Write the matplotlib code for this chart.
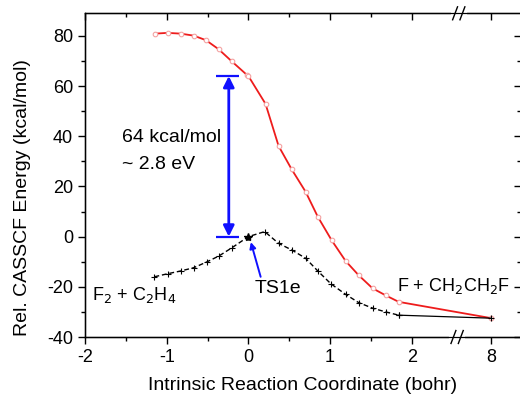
import numpy as np
import matplotlib
matplotlib.use('Agg')
import matplotlib.pyplot as plt

plt.rcParams['font.family'] = ['Liberation Sans', 'DejaVu Sans']
plt.rcParams['axes.unicode_minus'] = False

# IRC scan, excited state (red) and ground state (black)
irc_red = [-1.14, -0.99, -0.83, -0.67, -0.52, -0.365, -0.205, -0.02, 0.0, 0.21,
           0.37, 0.53, 0.70, 0.85, 1.02, 1.19, 1.35, 1.52, 1.68, 1.84, 8.0]
e_red = [80.9, 81.2, 80.9, 80.1, 78.3, 74.7, 69.9, 64.5, 64.0, 52.9,
         36.1, 26.8, 17.9, 7.9, -1.5, -9.7, -15.4, -20.6, -23.4, -26.0, -32.5]

irc_black = [-1.15, -0.99, -0.83, -0.67, -0.51, -0.36, -0.20, 0.0, 0.20,
             0.37, 0.53, 0.70, 0.85, 1.01, 1.19, 1.35, 1.52, 1.68, 1.84]
e_black = [-16.0, -14.8, -13.7, -12.4, -10.1, -7.7, -4.4, 0.0, 2.0,
           -2.7, -5.3, -8.6, -13.7, -18.8, -23.0, -26.3, -28.5, -30.0, -31.3]
irc_far = [1.84, 8.0]
e_far = [-31.3, -32.5]

ts_x = 0.0
ts_gap = 64  # kcal/mol between the two states at TS1e

xticks = [-2, -1, 0, 1, 2, 8]
xminor = [-1.5, -0.5, 0.5, 1.5]

# compressed x axis beyond the break
brk = 2.7
k = (2.975 - brk) / (8 - brk)

def fwd(x):
    x = np.asarray(x, dtype=float)
    return np.where(x <= brk, x, brk + (x - brk) * k)

def inv(u):
    u = np.asarray(u, dtype=float)
    return np.where(u <= brk, u, brk + (u - brk) / k)

fig = plt.figure(figsize=(5.2, 3.95), dpi=100)
ax = fig.add_axes([85/520, 1-337/395, (521-85)/520, (337-13.3)/395])
ax.set_xscale('function', functions=(fwd, inv))
xlim = (-2, float(inv(3.337)))
ylim = (-40, 89)

ax.plot(irc_black, e_black, color='black', lw=1.0, ls=(0, (3.5, 2)),
        marker='+', ms=5, mew=0.8)
ax.plot(irc_red, e_red, color='#ee1c1c', lw=1.3, marker='o', ms=3.3,
        mfc='white', mec='#f4a3a3', mew=0.8)
ax.plot(irc_far, e_far, color='black', lw=0.9, marker='+', ms=5, mew=0.8,
        zorder=3)
ax.plot([ts_x], [0], marker='*', color='black', ms=6, zorder=5)

# excitation gap arrow
ax_x = -0.24
ax.annotate('', xy=(ax_x, ts_gap), xytext=(ax_x, 0),
            arrowprops=dict(arrowstyle='<|-|>', color='#1010ff', lw=2,
                            mutation_scale=16, shrinkA=0, shrinkB=0))
ax.hlines([0, ts_gap], -0.40, -0.11, color='#1010ff', lw=1.6)
ax.text(-1.546, 39.6, '64 kcal/mol', fontsize=14, va='center', ha='left')
ax.text(-1.546, 28.9, '~ 2.8 eV', fontsize=14, va='center', ha='left')

ax.annotate('TS1e', xy=(0.03, -2.2), xytext=(0.074, -20.5), fontsize=14,
            va='center', ha='left',
            arrowprops=dict(arrowstyle='-|>', color='#1010ff', lw=1.4,
                            mutation_scale=9, shrinkA=0, shrinkB=0,
                            relpos=(0.15, 1.0)))
ax.text(-1.914, -23.2, 'F$_2$ + C$_2$H$_4$', fontsize=13, va='center', ha='left')
ax.text(1.825, -19.7, 'F + CH$_2$CH$_2$F', fontsize=13, va='center', ha='left')

ax.set_xlim(*xlim)
ax.set_ylim(*ylim)
ax.set_xticks(xticks)
ax.set_xticks(xminor, minor=True)
ax.set_xticklabels([str(t) for t in xticks])
ax.set_yticks(range(-40, 81, 20))
ax.set_yticks(range(-30, 81, 20), minor=True)
ax.tick_params(which='major', direction='out', length=5, width=1, labelsize=13)
ax.tick_params(which='minor', direction='out', length=3, width=1)
for s in ax.spines.values():
    s.set_linewidth(1.0)

# mirrored ticks on top and right, pointing inward
top = ax.twiny()
top.set_xscale('function', functions=(fwd, inv))
top.set_xlim(*xlim)
top.set_xticks(xticks)
top.set_xticks(xminor, minor=True)
top.tick_params(which='both', direction='in', labeltop=False, width=1)
top.tick_params(which='major', length=5)
top.tick_params(which='minor', length=3)
right = ax.twinx()
right.set_ylim(*ylim)
right.set_yticks(range(-40, 81, 20))
right.set_yticks(range(-30, 81, 20), minor=True)
right.tick_params(which='both', direction='in', labelright=False, width=1)
right.tick_params(which='major', length=5)
right.tick_params(which='minor', length=3)

# axis break marks
trans = ax.get_xaxis_transform()
for yb, xs in ((0, (2.51, 2.60)), (1, (2.53, 2.62))):
    ax.plot([xs[0] - 0.03, xs[1] + 0.03], [yb, yb], color='white', lw=3,
            transform=trans, clip_on=False, zorder=10)
    for xb in xs:
        ax.plot([xb - 0.03, xb + 0.03], [yb - 0.02, yb + 0.02], color='black',
                lw=1, transform=trans, clip_on=False, zorder=11)

ax.set_xlabel('Intrinsic Reaction Coordinate (bohr)', fontsize=14)
ax.set_ylabel('Rel. CASSCF Energy (kcal/mol)', fontsize=14)
ax.yaxis.set_label_coords(-0.124, 0.43)
ax.xaxis.set_label_coords(0.5, -0.125)

fig.savefig('out.png', dpi=100)
